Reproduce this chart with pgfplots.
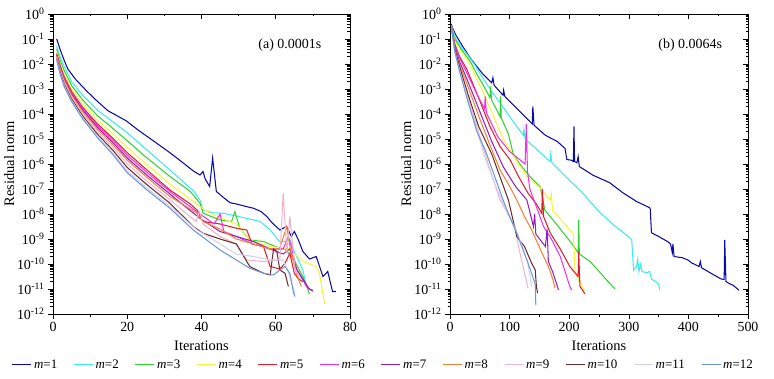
\documentclass[border=0pt]{standalone}
\usepackage{fontspec}
\setmainfont{Liberation Serif}
\usepackage{pgfplots}
\pgfplotsset{compat=1.18}

\definecolor{c1}{RGB}{10,10,170}
\definecolor{c2}{RGB}{60,235,235}
\definecolor{c3}{RGB}{50,210,50}
\definecolor{c4}{RGB}{245,245,60}
\definecolor{c5}{RGB}{225,30,40}
\definecolor{c6}{RGB}{240,50,230}
\definecolor{c7}{RGB}{150,30,190}
\definecolor{c8}{RGB}{245,130,50}
\definecolor{c9}{RGB}{240,180,200}
\definecolor{c10}{RGB}{110,45,45}
\definecolor{c11}{RGB}{210,210,240}
\definecolor{c12}{RGB}{110,150,220}

\pgfplotsset{
  common/.style={
    scale only axis, width=297bp, height=300bp,
    ymin=-12, ymax=0,
    ytick={-12,-11,...,0},
    minor ytick={-11.699,-11.523,-11.398,-11.301,-11.222,-11.155,-11.097,-11.046,
      -10.699,-10.523,-10.398,-10.301,-10.222,-10.155,-10.097,-10.046,
      -9.699,-9.523,-9.398,-9.301,-9.222,-9.155,-9.097,-9.046,
      -8.699,-8.523,-8.398,-8.301,-8.222,-8.155,-8.097,-8.046,
      -7.699,-7.523,-7.398,-7.301,-7.222,-7.155,-7.097,-7.046,
      -6.699,-6.523,-6.398,-6.301,-6.222,-6.155,-6.097,-6.046,
      -5.699,-5.523,-5.398,-5.301,-5.222,-5.155,-5.097,-5.046,
      -4.699,-4.523,-4.398,-4.301,-4.222,-4.155,-4.097,-4.046,
      -3.699,-3.523,-3.398,-3.301,-3.222,-3.155,-3.097,-3.046,
      -2.699,-2.523,-2.398,-2.301,-2.222,-2.155,-2.097,-2.046,
      -1.699,-1.523,-1.398,-1.301,-1.222,-1.155,-1.097,-1.046,
      -0.699,-0.523,-0.398,-0.301,-0.222,-0.155,-0.097,-0.046},
    minor x tick num=1,
    major tick length=5bp, minor tick length=2.5bp,
    every tick/.style={black, line width=0.6pt},
    axis line style={line width=0.8pt},
    tick label style={font=\fontsize{14}{16}\selectfont},
    label style={font=\fontsize{14.5}{16}\selectfont},
    /pgf/number format/assume math mode=true,
    clip=false,
  },
  main/.style={common, tick align=outside, xtick pos=bottom, ytick pos=left,
    yticklabels={10\textsuperscript{-12},10\textsuperscript{-11},10\textsuperscript{-10},10\textsuperscript{-9},10\textsuperscript{-8},10\textsuperscript{-7},10\textsuperscript{-6},10\textsuperscript{-5},10\textsuperscript{-4},10\textsuperscript{-3},10\textsuperscript{-2},10\textsuperscript{-1},10\textsuperscript{0}},
    xlabel={Iterations}, ylabel={Residual norm},
    xlabel style={yshift=-2bp}, ylabel style={yshift=-4bp},
    every axis plot/.append style={line width=1.05pt, mark=none},
  },
  over/.style={common, tick align=inside, xtick pos=top, ytick pos=right,
    xticklabels={}, yticklabels={}},
}

\begin{document}
\begin{tikzpicture}
\useasboundingbox (0,0) rectangle (774bp,379bp);

% ---------------- left panel ----------------
\begin{axis}[main, at={(53bp,65bp)}, anchor=south west,
  xmin=0, xmax=80, xtick={0,20,...,80},
  legend columns=12,
  legend style={at={(1.112,-0.17)}, anchor=center, draw=white, fill=white,
    font=\fontsize{13}{15}\selectfont,
    /tikz/every even column/.append style={column sep=14bp}},
  legend image code/.code={\draw[mark repeat=2,mark phase=2,#1,line width=1.4pt] plot coordinates {(0bp,0.25bp) (9.5bp,0.25bp) (19bp,0.25bp)};},
]
\addplot[color=c1] coordinates {(1,-1.0) (2,-1.45) (3,-1.85) (4,-2.2) (6,-2.6) (9,-3.07) (12,-3.5) (14.8,-3.87) (17,-4.05) (19.7,-4.27) (23,-4.65) (27,-5.07) (31.5,-5.55) (35,-5.95) (38,-6.3) (39.6,-6.44) (40.4,-6.3) (41,-6.6) (42.2,-6.9) (43,-5.76) (44,-7.1) (46,-7.35) (47.7,-7.55) (49.4,-7.6) (52,-7.7) (54,-7.77) (56,-7.9) (57.6,-8.1) (59,-8.35) (61.1,-8.64) (62.9,-8.5) (64.2,-8.9) (65,-8.7) (66,-9.0) (67.3,-9.5) (69.1,-9.8) (70.9,-9.7) (72.7,-10.5) (74,-10.3) (75.3,-11.1) (76.2,-11.1)};
\addlegendentry{\textit{m}=1}
\addplot[color=c2] coordinates {(1,-1.3) (2,-1.75) (3,-2.1) (5,-2.7) (8,-3.25) (12,-3.85) (16,-4.3) (20,-4.75) (25,-5.4) (31.5,-6.24) (35,-6.7) (38,-7.1) (39.6,-7.44) (40.4,-7.84) (43,-7.95) (45.8,-7.97) (50,-8.1) (55.8,-8.3) (58.5,-8.64) (61,-9.1) (62.5,-9.1) (63.8,-9.0) (65,-9.5) (67.3,-10.24) (68.3,-10.9)};
\addlegendentry{\textit{m}=2}
\addplot[color=c3] coordinates {(1,-1.41) (2,-1.89) (3,-2.26) (5,-2.86) (8,-3.44) (12,-4.07) (16,-4.56) (20,-5.07) (25,-5.72) (31.5,-6.5) (37,-7.1) (39.6,-7.57) (40.4,-7.97) (45,-8.24) (48.1,-8.3) (49,-7.9) (50.3,-8.57) (53,-9.04) (56.7,-9.1) (61.1,-9.37) (62.5,-9.4) (64.8,-9.8) (67.3,-10.5) (69.1,-11.2)};
\addlegendentry{\textit{m}=3}
\addplot[color=c4] coordinates {(1,-1.5) (2,-2.01) (3,-2.4) (5,-3.0) (8,-3.6) (12,-4.26) (16,-4.78) (20,-5.34) (25,-5.99) (31.5,-6.8) (36,-7.3) (39.6,-7.7) (42.2,-7.97) (47.6,-8.3) (49.4,-8.4) (53,-9.04) (58.5,-9.3) (63.8,-9.4) (67.3,-9.9) (70.9,-10.1) (71.8,-10.4) (73.2,-11.6)};
\addlegendentry{\textit{m}=4}
\addplot[color=c5] coordinates {(1,-1.58) (2,-2.1) (3,-2.5) (5,-3.1) (8,-3.73) (12,-4.4) (16,-4.95) (20,-5.55) (25,-6.2) (31.5,-7.04) (37,-7.6) (38.8,-7.84) (40.4,-8.3) (45,-8.4) (49.4,-8.57) (52.2,-8.64) (53.6,-9.2) (56.7,-9.3) (58.5,-10.1) (61.1,-10.2) (62.5,-9.97) (63.8,-9.57) (65,-10.37) (66.1,-10.6) (67.3,-10.7)};
\addlegendentry{\textit{m}=5}
\addplot[color=c6] coordinates {(1,-1.61) (2,-2.14) (3,-2.55) (5,-3.15) (8,-3.78) (12,-4.47) (16,-5.03) (20,-5.65) (25,-6.3) (31.5,-7.1) (36,-7.6) (39.6,-8.0) (43.4,-8.4) (45,-8.0) (46,-8.7) (49.4,-8.9) (54,-9.2) (58.5,-9.4) (62,-9.4) (63.4,-8.9) (64.2,-9.3) (65.6,-10.2) (68.3,-10.9) (70,-11.1)};
\addlegendentry{\textit{m}=6}
\addplot[color=c7] coordinates {(1,-1.65) (2,-2.19) (3,-2.6) (5,-3.2) (8,-3.85) (12,-4.54) (16,-5.12) (20,-5.76) (25,-6.41) (31.5,-7.2) (36,-7.75) (39.6,-8.17) (45,-8.7) (49.4,-8.9) (54,-9.1) (58.5,-9.4) (62,-9.6) (63.8,-9.4) (65.6,-10.2) (69,-11.0) (70,-11.05)};
\addlegendentry{\textit{m}=7}
\addplot[color=c8] coordinates {(1,-1.68) (2,-2.23) (3,-2.65) (5,-3.25) (8,-3.91) (12,-4.61) (16,-5.2) (20,-5.85) (25,-6.5) (31.5,-7.3) (38.8,-7.97) (40.4,-8.3) (45,-8.6) (49.4,-9.0) (54,-9.2) (58.5,-9.4) (61,-9.4) (63,-8.5) (63.8,-9.3) (65.6,-10.4) (66.9,-10.9)};
\addlegendentry{\textit{m}=8}
\addplot[color=c9] coordinates {(1,-1.73) (2,-2.3) (3,-2.72) (5,-3.32) (8,-3.99) (12,-4.71) (16,-5.31) (20,-6.0) (25,-6.65) (31.5,-7.43) (38.5,-8.3) (39.5,-7.9) (40.4,-8.4) (45,-8.9) (49.4,-9.2) (52.2,-9.84) (56.7,-9.9) (61.1,-9.84) (62,-7.17) (63,-9.57) (63.8,-8.1) (65.2,-10.2) (66.5,-10.6)};
\addlegendentry{\textit{m}=9}
\addplot[color=c10] coordinates {(1,-1.78) (2,-2.36) (3,-2.8) (5,-3.4) (8,-4.08) (12,-4.81) (16,-5.43) (20,-6.14) (25,-6.79) (31.5,-7.57) (37.8,-8.5) (40.4,-8.77) (45,-9.0) (49.4,-9.2) (53,-10.1) (56.7,-10.37) (58.5,-10.44) (59.4,-9.4) (60.3,-9.5) (61.1,-10.24) (62.5,-10.37) (63.4,-10.9)};
\addlegendentry{\textit{m}=10}
\addplot[color=c11] coordinates {(1,-1.82) (2,-2.42) (3,-2.86) (5,-3.46) (8,-4.15) (12,-4.9) (16,-5.54) (20,-6.27) (25,-6.92) (31.5,-7.69) (38.8,-8.64) (45,-9.2) (49.4,-9.6) (54,-9.7) (58.5,-9.84) (62,-9.84) (63.8,-10.5) (65.2,-11.2)};
\addlegendentry{\textit{m}=11}
\addplot[color=c12] coordinates {(1,-1.85) (2,-2.45) (3,-2.9) (5,-3.5) (8,-4.2) (12,-4.95) (16,-5.6) (20,-6.35) (25,-7.0) (31.5,-7.77) (37.8,-8.64) (45,-9.44) (49.4,-9.84) (53,-10.17) (56.7,-10.37) (59.4,-10.44) (61.1,-10.24) (62.5,-10.1) (63.8,-10.37) (64.8,-11.17) (65.2,-11.3)};
\addlegendentry{\textit{m}=12}
\node[font=\fontsize{14}{16}\selectfont] at (axis cs:63.8,-1.24) {(a) 0.0001s};
\end{axis}
\begin{axis}[over, at={(53bp,65bp)}, anchor=south west, xmin=0, xmax=80, xtick={0,20,...,80}]
\end{axis}

% ---------------- right panel ----------------
\begin{axis}[main, at={(450bp,65bp)}, anchor=south west, width=298bp,
  xmin=0, xmax=500, xtick={0,100,...,500}]
\addplot[color=c1] coordinates {(2,-0.4) (5,-0.6) (10,-0.85) (22,-1.32) (35,-1.8) (55,-2.4) (70,-2.75) (72,-2.55) (74,-2.85) (89,-3.25) (90,-3.05) (92,-3.3) (115,-3.85) (138,-4.4) (139,-3.7) (141,-4.45) (160,-4.85) (180,-5.1) (193,-5.38) (196,-5.82) (204,-5.85) (207,-5.9) (208,-4.5) (209,-5.9) (213,-5.95) (215,-5.7) (217,-6.1) (240,-6.45) (268,-6.75) (290,-7.15) (313,-7.5) (335,-7.75) (336,-7.8) (338,-8.75) (350,-8.9) (365,-9.1) (370,-9.2) (373,-9.55) (374,-9.2) (376,-9.7) (390,-9.75) (400,-9.85) (405,-9.95) (418,-10.1) (420,-9.9) (422,-10.15) (440,-10.4) (455,-10.6) (460,-10.62) (461,-9.04) (463,-10.7) (470,-10.8) (475,-10.85) (480,-10.95) (485,-11.05)};
\addplot[color=c2] coordinates {(2,-0.45) (10,-1.0) (20,-1.35) (30,-1.65) (42,-2.05) (56,-2.6) (70,-3.1) (84,-3.55) (100,-4.1) (123,-4.85) (124,-4.6) (126,-5.0) (145,-5.4) (168,-5.9) (169,-5.6) (171,-5.95) (198,-6.6) (220,-7.1) (252,-7.95) (275,-8.45) (302,-8.95) (305,-9.05) (308,-10.25) (313,-10.1) (315,-9.8) (317,-10.3) (320,-10.0) (322,-10.3) (330,-10.35) (335,-10.3) (338,-10.6) (345,-10.7) (350,-10.8) (352,-11.05)};
\addplot[color=c3] coordinates {(2,-0.45) (8,-1.0) (20,-1.45) (34,-1.9) (45,-2.4) (56,-2.85) (67,-3.35) (68,-2.9) (70,-3.45) (84,-4.1) (85,-3.3) (86,-4.15) (98,-4.8) (106,-5.6) (117,-6.0) (134,-6.5) (151,-6.9) (155,-7.3) (159,-7.84) (175,-8.3) (190,-8.75) (205,-9.2) (215,-9.55) (216,-8.24) (217,-9.6) (235,-9.9) (252,-10.35) (265,-10.7) (277,-11.0)};
\addplot[color=c4] coordinates {(2,-0.45) (8,-1.1) (20,-1.55) (31,-1.9) (53,-3.0) (73,-4.1) (89,-5.0) (101,-5.45) (115,-6.0) (129,-6.5) (151,-6.95) (168,-7.45) (170,-7.2) (172,-7.85) (185,-8.2) (196,-8.5) (207,-8.8) (210,-10.35) (215,-10.6) (224,-11.0) (226,-11.1)};
\addplot[color=c5] coordinates {(2,-0.45) (8,-1.2) (16,-1.7) (28,-2.2) (48,-3.35) (67,-4.5) (84,-5.3) (101,-5.84) (115,-6.5) (131,-7.17) (145,-7.6) (154,-7.97) (155,-7.0) (157,-8.1) (168,-8.75) (185,-9.4) (201,-10.1) (215,-10.5) (216,-9.5) (218,-10.9) (224,-11.1) (226,-11.2)};
\addplot[color=c6] coordinates {(2,-0.45) (8,-1.25) (16,-1.75) (25,-2.2) (45,-3.2) (58,-3.8) (59,-3.3) (61,-3.95) (80,-4.9) (100,-5.5) (126,-6.0) (128,-4.4) (130,-6.3) (134,-7.0) (157,-8.5) (170,-9.0) (185,-9.7) (201,-10.9) (204,-11.04)};
\addplot[color=c7] coordinates {(2,-0.45) (8,-1.3) (16,-1.9) (30,-2.7) (50,-3.9) (70,-5.1) (89,-6.1) (110,-6.9) (129,-7.44) (140,-8.5) (142,-8.0) (144,-8.8) (160,-9.3) (163,-8.6) (165,-9.9) (172,-10.3) (179,-10.8) (182,-11.04)};
\addplot[color=c8] coordinates {(2,-0.45) (8,-1.35) (16,-2.0) (30,-2.9) (50,-4.2) (68,-5.3) (84,-6.24) (98,-6.8) (112,-7.44) (125,-8.1) (137,-8.64) (157,-9.7) (165,-10.1) (173,-10.64) (176,-10.97)};
\addplot[color=c9] coordinates {(2,-0.45) (8,-1.45) (16,-2.2) (30,-3.3) (45,-4.5) (62,-5.84) (84,-7.44) (109,-8.5) (115,-9.3) (120,-9.84) (131,-10.97)};
\addplot[color=c10] coordinates {(2,-0.45) (8,-1.4) (16,-2.1) (30,-3.2) (48,-4.5) (70,-5.6) (98,-7.44) (112,-8.9) (125,-9.3) (137,-9.97) (143,-10.24) (145,-10.9) (147,-11.17)};
\addplot[color=c11] coordinates {(2,-0.45) (8,-1.5) (16,-2.25) (30,-3.4) (45,-4.6) (58,-5.7) (75,-6.8) (95,-7.9) (110,-8.6) (120,-9.2) (130,-9.9) (135,-10.6) (137,-10.9)};
\addplot[color=c12] coordinates {(2,-0.45) (8,-1.5) (16,-2.3) (30,-3.5) (45,-4.7) (59,-5.44) (75,-6.5) (89,-7.44) (100,-8.1) (112,-8.77) (131,-9.97) (143,-10.8) (144,-11.64)};
\node[font=\fontsize{14}{16}\selectfont] at (axis cs:403,-1.24) {(b) 0.0064s};
\end{axis}
\begin{axis}[over, at={(450bp,65bp)}, anchor=south west, width=298bp, xmin=0, xmax=500, xtick={0,100,...,500}]
\end{axis}
\end{tikzpicture}
\end{document}
